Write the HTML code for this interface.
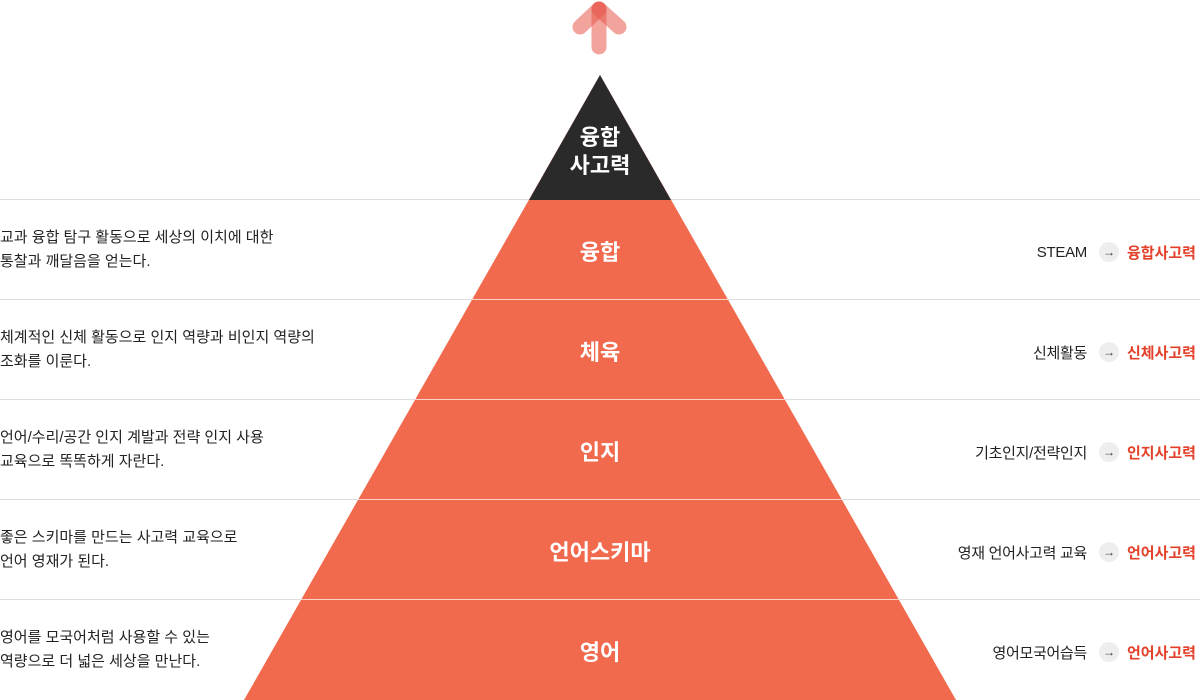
<!DOCTYPE html>
<html><head><meta charset="utf-8"><style>
*{margin:0;padding:0;box-sizing:border-box}
body{width:1200px;height:700px;background:#fff;position:relative;overflow:hidden;font-family:"Liberation Sans","Noto Sans CJK KR",sans-serif;color:#222}
.l{position:absolute;left:0;font-size:15px;line-height:24px;letter-spacing:0}
.r{position:absolute;right:4px;height:24px;display:flex;align-items:center;font-size:15px;letter-spacing:-0.3px}
.c{width:20px;height:20px;border-radius:50%;background:#eee;margin:0 8px 0 12px;display:flex;align-items:center;justify-content:center;font-size:12px;color:#333}
.r b{color:#e4412b;font-weight:bold;letter-spacing:0}
.t{position:absolute;left:0;width:1200px;text-align:center;color:#fff;font-weight:bold;font-size:22px}
</style></head><body>
<svg width="1200" height="700" style="position:absolute;left:0;top:0">
<g stroke="#ddd" stroke-width="1">
<line x1="0" y1="199.5" x2="1200" y2="199.5"/><line x1="0" y1="299.5" x2="1200" y2="299.5"/>
<line x1="0" y1="399.5" x2="1200" y2="399.5"/><line x1="0" y1="499.5" x2="1200" y2="499.5"/>
<line x1="0" y1="599.5" x2="1200" y2="599.5"/></g>
<polygon points="600,75 956,700 244,700" fill="#f26a4e"/>
<polygon points="600,75 671,200 529,200" fill="#2a2a2a"/>
<g stroke="#fff" stroke-width="1" opacity=".7">
<line x1="472" y1="299.5" x2="728" y2="299.5"/><line x1="415" y1="399.5" x2="785" y2="399.5"/>
<line x1="358" y1="499.5" x2="842" y2="499.5"/><line x1="301" y1="599.5" x2="899" y2="599.5"/></g>
<g stroke="#e8584a" stroke-width="15" stroke-linecap="round" fill="none">
<line x1="599" y1="9" x2="599" y2="47" opacity=".55"/><line x1="599" y1="9" x2="580" y2="27" opacity=".55"/><line x1="599" y1="9" x2="619" y2="27" opacity=".55"/></g>
</svg>
<div class="t" style="top:124px;line-height:28px">융합<br>사고력</div>
<div class="t" style="top:235px">융합</div>
<div class="t" style="top:335px">체육</div>
<div class="t" style="top:435px">인지</div>
<div class="t" style="top:535px">언어스키마</div>
<div class="t" style="top:635px">영어</div>
<div class="l" style="top:226px">교과 융합 탐구 활동으로 세상의 이치에 대한<br>통찰과 깨달음을 얻는다.</div>
<div class="l" style="top:326px">체계적인 신체 활동으로 인지 역량과 비인지 역량의<br>조화를 이룬다.</div>
<div class="l" style="top:426px">언어/수리/공간 인지 계발과 전략 인지 사용<br>교육으로 똑똑하게 자란다.</div>
<div class="l" style="top:526px">좋은 스키마를 만드는 사고력 교육으로<br>언어 영재가 된다.</div>
<div class="l" style="top:626px">영어를 모국어처럼 사용할 수 있는<br>역량으로 더 넓은 세상을 만난다.</div>
<div class="r" style="top:240px">STEAM<span class="c">→</span><b>융합사고력</b></div>
<div class="r" style="top:340px">신체활동<span class="c">→</span><b>신체사고력</b></div>
<div class="r" style="top:440px">기초인지/전략인지<span class="c">→</span><b>인지사고력</b></div>
<div class="r" style="top:540px">영재 언어사고력 교육<span class="c">→</span><b>언어사고력</b></div>
<div class="r" style="top:640px">영어모국어습득<span class="c">→</span><b>언어사고력</b></div>
</body></html>
